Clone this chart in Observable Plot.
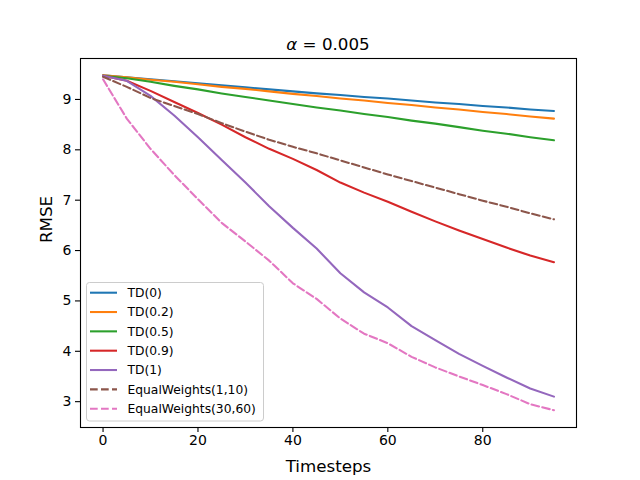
<!DOCTYPE html>
<html><head><meta charset="utf-8">
<script src="https://cdn.jsdelivr.net/npm/d3@7"></script>
<script src="https://cdn.jsdelivr.net/npm/@observablehq/plot@0.6"></script>
<style>body{margin:0;background:#fff} #chart{width:640px;height:480px}</style>
</head><body><div id="chart"></div>
<script>
const timesteps = [0,5,10,15,20,25,30,35,40,45,50,55,60,65,70,75,80,85,90,95];
const td0   = [9.48,9.44,9.40,9.36,9.32,9.28,9.24,9.20,9.16,9.12,9.09,9.05,9.02,8.98,8.94,8.91,8.87,8.84,8.80,8.77];
const td02  = [9.48,9.44,9.39,9.35,9.30,9.25,9.21,9.16,9.11,9.07,9.02,8.98,8.93,8.89,8.84,8.80,8.75,8.71,8.66,8.62];
const td05  = [9.47,9.42,9.35,9.27,9.20,9.12,9.05,8.98,8.91,8.84,8.78,8.71,8.65,8.58,8.52,8.45,8.38,8.32,8.25,8.19];
const td09  = [9.47,9.37,9.17,8.95,8.73,8.50,8.25,8.02,7.82,7.60,7.35,7.15,6.97,6.77,6.58,6.40,6.23,6.06,5.90,5.77];
const td1   = [9.47,9.37,9.07,8.68,8.25,7.80,7.35,6.88,6.45,6.04,5.55,5.17,4.87,4.50,4.22,3.95,3.71,3.48,3.26,3.10];
const ew110 = [9.45,9.25,9.03,8.87,8.71,8.53,8.36,8.20,8.06,7.93,7.79,7.65,7.51,7.38,7.25,7.12,6.99,6.87,6.74,6.62];
const ew3060= [9.40,8.62,8.02,7.50,7.02,6.55,6.18,5.80,5.35,5.04,4.65,4.35,4.16,3.89,3.68,3.50,3.33,3.15,2.95,2.83];

const seriesNames  = ["TD(0)","TD(0.2)","TD(0.5)","TD(0.9)","TD(1)","EqualWeights(1,10)","EqualWeights(30,60)"];
const seriesValues = [td0, td02, td05, td09, td1, ew110, ew3060];
const seriesColors = ["#1f77b4","#ff7f0e","#2ca02c","#d62728","#9467bd","#8c564b","#e377c2"];
const seriesDashed = [false,false,false,false,false,true,true];
const xTicks = [0,20,40,60,80];
const yTicks = [3,4,5,6,7,8,9];
const titleText = ["α", " = 0.005"];
const xLabel = "Timesteps";
const yLabel = "RMSE";

const rows = [];
seriesValues.forEach((vals, i) => vals.forEach((v, j) => rows.push({series: seriesNames[i], t: timesteps[j], rmse: v})));

const font = "DejaVu Sans, sans-serif";
const lineMarks = seriesNames.map((name, i) =>
  Plot.line(rows.filter(d => d.series === name), {
    x: "t", y: "rmse", stroke: seriesColors[i], strokeWidth: 2.08,
    strokeDasharray: seriesDashed[i] ? "7.7,3.3" : null
  })
);

const chart = Plot.plot({
  width: 640, height: 480,
  marginLeft: 80, marginRight: 64, marginTop: 58, marginBottom: 53,
  style: {fontFamily: font, fontSize: "14px", color: "black", background: "white"},
  x: {domain: [-4.75, 99.75]},
  y: {domain: [2.487, 9.813]},
  marks: [
    ...lineMarks,
    Plot.frame({stroke: "black", strokeWidth: 1.1}),
    Plot.axisX(xTicks, {tickSize: 5, tickPadding: 3, strokeWidth: 1.1, fontSize: 14, label: null, tickFormat: "d"}),
    Plot.axisY(yTicks, {tickSize: 5, tickPadding: 4, strokeWidth: 1.1, fontSize: 14, label: null, tickFormat: "d"}),
    Plot.text([xLabel], {frameAnchor: "bottom", dy: 44, fontSize: 16.7, fill: "black"}),
    Plot.text([yLabel], {frameAnchor: "left", dx: -34, rotate: -90, fontSize: 16.7, fill: "black"})
  ]
});
document.getElementById("chart").appendChild(chart);

const svg = d3.select(chart);
// title
const t = svg.append("text").attr("x", 328).attr("y", 49.5).attr("text-anchor", "middle")
  .attr("font-family", font).attr("font-size", 16.7).attr("fill", "black");
t.append("tspan").attr("font-style", "italic").text(titleText[0]);
t.append("tspan").text(titleText[1]);

// legend
const lg = svg.append("g").attr("text-anchor", "start");
lg.append("rect").attr("x", 86.5).attr("y", 282.5).attr("width", 177).attr("height", 138.5)
  .attr("rx", 3).attr("fill", "white").attr("fill-opacity", 0.8).attr("stroke", "#cccccc").attr("stroke-width", 1);
seriesNames.forEach((name, i) => {
  const y = 292.7 + i * 19.33;
  const ln = lg.append("line").attr("x1", 90).attr("x2", 117).attr("y1", y).attr("y2", y)
    .attr("stroke", seriesColors[i]).attr("stroke-width", 2.08);
  if (seriesDashed[i]) ln.attr("stroke-dasharray", "7.7,3.3");
  lg.append("text").attr("x", 127.5).attr("y", y).attr("dy", "0.35em").attr("text-anchor", "start")
    .attr("font-family", font).attr("font-size", 12.3).attr("fill", "black").text(name);
});
</script>
</body></html>
